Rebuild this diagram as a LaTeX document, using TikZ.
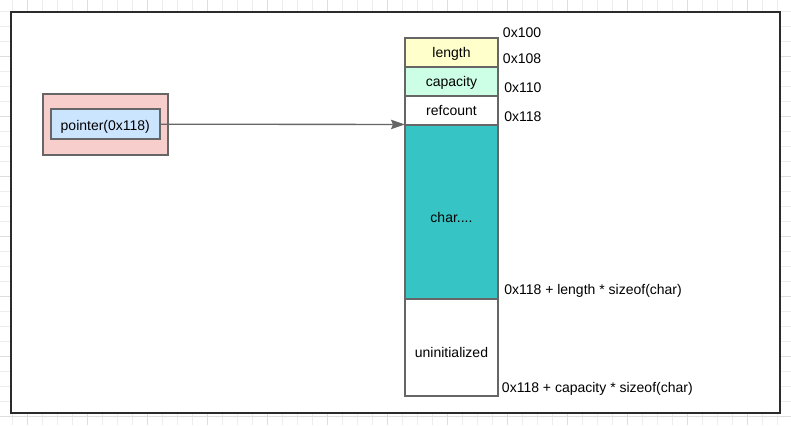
\documentclass[tikz,border=0pt]{standalone}
\usepackage{fontspec}
\setmainfont{Liberation Sans}
\usetikzlibrary{arrows.meta}
\definecolor{gridminor}{HTML}{EDEDED}
\definecolor{gridmajor}{HTML}{DEDEDE}
\definecolor{frame}{HTML}{2B2B2B}
\definecolor{strokeg}{HTML}{666666}
\definecolor{pinkf}{HTML}{F8CECC}
\definecolor{bluef}{HTML}{CCE5FF}
\definecolor{yellowf}{HTML}{FFFFCC}
\definecolor{mintf}{HTML}{CCFFE6}
\definecolor{tealf}{HTML}{36C5C4}
\tikzset{
  box/.style={draw=strokeg, line width=1.5pt, inner sep=0pt, outer sep=0pt, font=\fontsize{10.5pt}{12pt}\selectfont, text height=7.6pt, text depth=0pt},
  cell/.style={box, minimum width=69.75pt},
  lowtext/.style={text height=15.4pt},
  lab/.style={anchor=base west, inner sep=0pt, font=\fontsize{10.5pt}{12pt}\selectfont},
}
\begin{document}
\begin{tikzpicture}[x=0.75pt, y=-0.75pt]
\useasboundingbox (0,0) rectangle (791,425);
% grid
\foreach \k in {0,...,52} {
  \pgfmathtruncatemacro{\m}{mod(\k,4)}
  \ifnum\m=1
    \draw[gridmajor, line width=0.75pt] ({12.3+15*\k},0) -- ({12.3+15*\k},425);
  \else
    \draw[gridminor, line width=0.75pt] ({12.3+15*\k},0) -- ({12.3+15*\k},425);
  \fi
}
\foreach \k in {-1,...,28} {
  \pgfmathtruncatemacro{\m}{mod(\k+4,4)}
  \ifnum\m=3
    \draw[gridmajor, line width=0.75pt] (0,{11.7+15*\k}) -- (791,{11.7+15*\k});
  \else
    \draw[gridminor, line width=0.75pt] (0,{11.7+15*\k}) -- (791,{11.7+15*\k});
  \fi
}
% main frame
\draw[frame, fill=white, line width=1.5pt] (11,12) rectangle (780,413);
% pointer
\node[box, fill=pinkf, minimum width=93.75pt, minimum height=45.75pt] (outer) at (105.2,124.5) {};
\node[box, fill=bluef, minimum width=82pt, minimum height=22.7pt, text height=9pt] (ptr) at (105.3,124.2) {pointer(0x118)};
% column
\node[cell, fill=yellowf, minimum height=21.75pt] (len) at (451.5,52.5) {length};
\node[cell, fill=mintf, minimum height=21.75pt] (cap) at (451.5,81.5) {capacity};
\node[cell, fill=white, minimum height=21.75pt] (ref) at (451.5,110.5) {refcount};
\node[cell, lowtext, fill=tealf, minimum height=130.5pt] (chr) at (451.5,212) {char....};
\node[cell, lowtext, fill=white, minimum height=72.75pt] (uni) at (451.5,347.5) {uninitialized};
% arrow
\coordinate (tgt) at (chr.north west |- ptr.east);
\draw[strokeg, line width=1pt, -{Stealth[length=10.5pt, width=7pt, inset=1.5pt]}] (ptr.east) -- ([yshift=-0.2pt]tgt);
% address labels
\node[lab] (a100) at (502.7,37) {0x100};
\node[lab] (a108) at (502.7,63.4) {0x108};
\node[lab] (a110) at (504,92.4) {0x110};
\node[lab] (a118) at (504,121.4) {0x118};
\node[lab] (alen) at (504,294.7) {0x118 + length * sizeof(char)};
\node[lab] (acap) at (501.7,392) {0x118 + capacity * sizeof(char)};
\end{tikzpicture}
\end{document}
